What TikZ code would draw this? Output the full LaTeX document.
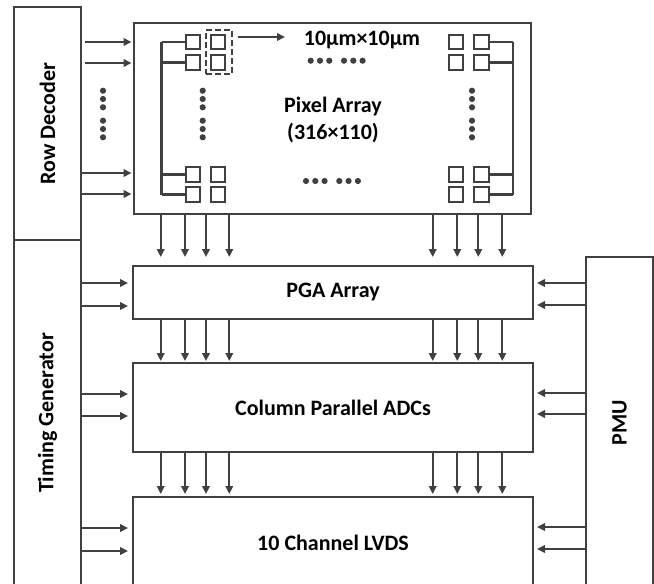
\documentclass[tikz,border=0pt]{standalone}
\usepackage{fontspec}
\setmainfont{Carlito}
\usetikzlibrary{arrows.meta}
\definecolor{ln}{HTML}{404040}
\tikzset{
  blk/.style={draw=ln, line width=2.3pt, inner sep=0pt, outer sep=0pt, font=\fontsize{22}{25}\selectfont\bfseries, text=black},
  arr/.style={draw=ln, line width=2.2pt, -{Triangle[length=8pt,width=7.5pt]}},
  px/.style={draw=ln, line width=2.2pt, minimum width=14.5pt, minimum height=14.5pt, inner sep=0pt, outer sep=0pt},
  bus/.style={draw=ln, line width=2.2pt},
  dotc/.style={fill=ln},
  lbl/.style={font=\fontsize{22}{25}\selectfont\bfseries, text=black, inner sep=0pt}
}
\begin{document}
\begin{tikzpicture}[x=1pt,y=-1pt]
\useasboundingbox (0,0) rectangle (654,584);
% blocks
\node[blk, minimum width=67pt, minimum height=233pt, anchor=north west] (rowdec) at (14,7) {};
\node[rotate=90, lbl] at (rowdec.center) {Row Decoder};
\node[blk, minimum width=67pt, minimum height=346pt, anchor=north west] (timing) at (14,240) {};
\node[rotate=90, lbl] at (timing.center) {Timing Generator};
\node[blk, minimum width=67pt, minimum height=332pt, anchor=north west] (pmu) at (586,257) {};
\node[rotate=90, lbl] at (pmu.center) {PMU};
\node[blk, minimum width=397pt, minimum height=191pt, anchor=north west] (pix) at (134,23) {};
\node[blk, minimum width=400pt, minimum height=53pt, anchor=north west] (pga) at (133,266) {PGA Array};
\node[blk, minimum width=400pt, minimum height=89pt, anchor=north west] (adc) at (133,363) {Column Parallel ADCs};
\node[blk, minimum width=400pt, minimum height=92pt, anchor=north west] (lvds) at (133,497) {10 Channel LVDS};
% pixel array texts
\node[lbl] (pixt) at (333,107) {Pixel Array};
\node[lbl] (pixn) at (333,133) {(316×110)};
\node[lbl] (sz) at (362,40) {10µm×10µm};
% pixels
\foreach \r/\y in {a/42,b/62.5,c/174.5,d/194.5}{
  \node[px] (L1\r) at (193,\y) {};
  \node[px] (L2\r) at (218,\y) {};
  \node[px] (R1\r) at (456,\y) {};
  \node[px] (R2\r) at (481.5,\y) {};
}
\coordinate (lbus) at (161.5,0);
\coordinate (rbus) at (513,0);
\draw[bus] (lbus |- L1a.west) -- (lbus |- L1d.west);
\draw[bus] (rbus |- R2a.east) -- (rbus |- R2d.east);
\foreach \r in {a,b,c,d}{
  \draw[bus] (lbus |- L1\r.west) -- (L1\r.west);
  \draw[bus] (R2\r.east) -- (rbus |- R2\r.east);
}
% dashed selection
\node[draw=ln, line width=2.2pt, dash pattern=on 6pt off 3pt, minimum width=26pt, minimum height=44pt, inner sep=0pt, outer sep=0pt] (sel) at (219,52) {};
\coordinate (selr) at (238,37);
\coordinate (selt) at (285,37);
\draw[arr] (selr) -- (selt);
% dots
\foreach \x in {310.7,320,329.3,344,353.3,362.6}{\fill[dotc] (\x,60.7) circle (3.1pt);}
\foreach \x in {306,315.3,324.6,339.3,348.6,357.9}{\fill[dotc] (\x,181) circle (3.1pt);}
\foreach \y in {90.7,99,107.3,120.7,129,137.3}{
  \fill[dotc] (202.7,\y) circle (3.1pt);
  \fill[dotc] (472,\y) circle (3.1pt);
  \fill[dotc] (103,\y) circle (3.1pt);
}
% row decoder arrows
\foreach \y in {42,63}{
  \coordinate (s) at (85,\y);
  \draw[arr, shorten >=2.5pt] (s) -- (pix.west |- s);
}
\foreach \y in {173,194}{
  \coordinate (s) at (0,\y);
  \draw[arr, shorten >=2.5pt] (rowdec.east |- s) -- (pix.west |- s);
}
% timing arrows
\foreach \y in {283,306,394,416,528,551}{
  \coordinate (s) at (0,\y);
  \draw[arr, shorten >=5pt] (timing.east |- s) -- (pga.west |- s);
}
% pmu arrows
\foreach \y in {283,305,393,414,527,549}{
  \coordinate (s) at (0,\y);
  \draw[arr, shorten >=4pt] (pmu.west |- s) -- (pga.east |- s);
}
% vertical arrows
\foreach \x in {160.7,185,206,229.3,432.7,457.3,478.3,502.3}{
  \coordinate (c) at (\x,0);
  \draw[arr, shorten >=9pt] (c |- pix.south) -- (c |- pga.north);
  \draw[arr, shorten >=2pt] (c |- pga.south) -- (c |- adc.north);
  \draw[arr, shorten >=3pt] (c |- adc.south) -- (c |- lvds.north);
}
\end{tikzpicture}
\end{document}
